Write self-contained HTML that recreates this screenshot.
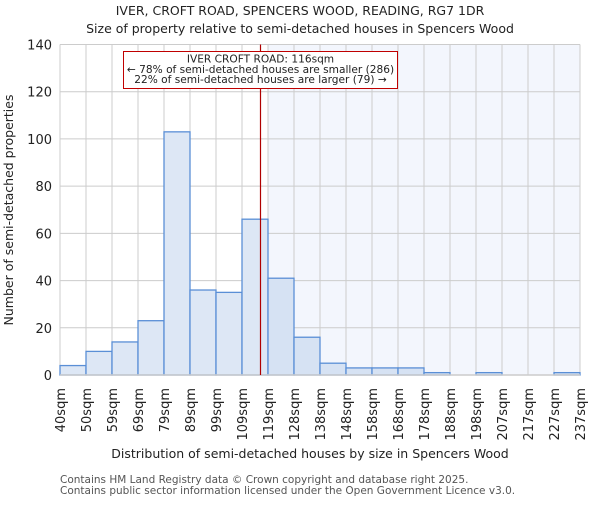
<!DOCTYPE html>
<html><head><meta charset="utf-8"><style>
body{margin:0;background:#fff}
svg text{font-family:"DejaVu Sans","Liberation Sans",sans-serif;fill:#222}
</style></head><body>
<svg width="600" height="500" viewBox="0 0 600 500" xmlns="http://www.w3.org/2000/svg">
<text x="300" y="15" font-size="12.5" text-anchor="middle">IVER, CROFT ROAD, SPENCERS WOOD, READING, RG7 1DR</text>
<text x="300" y="33" font-size="12.5" text-anchor="middle">Size of property relative to semi-detached houses in Spencers Wood</text>
<g id="plot"></g>
<text x="310" y="458" font-size="12.5" text-anchor="middle">Distribution of semi-detached houses by size in Spencers Wood</text>
<text transform="translate(13,210) rotate(-90)" font-size="12.5" text-anchor="middle">Number of semi-detached properties</text>
<text x="60" y="483" font-size="10.5" style="fill:#555">Contains HM Land Registry data © Crown copyright and database right 2025.</text>
<text x="60" y="494" font-size="10.5" style="fill:#555">Contains public sector information licensed under the Open Government Licence v3.0.</text>
</svg>
<script>
const binLabels=["40sqm","50sqm","59sqm","69sqm","79sqm","89sqm","99sqm","109sqm","119sqm","128sqm","138sqm","148sqm","158sqm","168sqm","178sqm","188sqm","198sqm","207sqm","217sqm","227sqm","237sqm"];
const counts=[4,10,14,23,103,36,35,66,41,16,5,3,3,3,1,0,1,0,0,1];
const yTicks=[0,20,40,60,80,100,120,140];
const propertyBin=8;
const propertyPos=7.73;
const NS="http://www.w3.org/2000/svg";
const L=60,R=580,T=44.5,B=375,yMax=140;
const n=counts.length,bw=(R-L)/n;
const xs=i=>L+i*bw, ys=v=>B-(v/yMax)*(B-T);
const g=document.getElementById('plot');
function mk(tag,at){const e=document.createElementNS(NS,tag);for(const k in at)e.setAttribute(k,at[k]);g.appendChild(e);return e;}
let e=mk('rect',{x:xs(propertyBin),y:T,width:R-xs(propertyBin),height:B-T,fill:'#f3f6fd'});


yTicks.forEach(t=>{const l=mk('line',{x1:L,x2:R,y1:ys(t),y2:ys(t),stroke:'#cccccc','stroke-width':1});


const tx=mk('text',{x:L-8,y:ys(t)+5,'font-size':13,'text-anchor':'end'});tx.textContent=t;

});
binLabels.forEach((lab,i)=>{const l=mk('line',{x1:xs(i),x2:xs(i),y1:T,y2:B,stroke:'#cccccc','stroke-width':1});


const tx=mk('text',{transform:`translate(${xs(i)+5},388) rotate(-90)`,'font-size':13,'text-anchor':'end'});tx.textContent=lab;

});
counts.forEach((c,i)=>{if(c<=0)return;const r=mk('rect',{x:xs(i),y:ys(c),width:bw,height:B-ys(c),fill:i>=propertyBin?'#d6e2f3':'#dde7f5',stroke:'#5a8fd6','stroke-width':1.3});

});
const ax=mk('line',{x1:L,x2:R,y1:B,y2:B,stroke:'#cccccc','stroke-width':1.5});


const mx=Math.floor(xs(propertyPos))+0.5;
const rl=mk('line',{x1:mx,x2:mx,y1:T,y2:B,stroke:'#b00000','stroke-width':1.2});


const box=mk('rect',{x:123.5,y:51.5,width:274,height:37,fill:'#fff',stroke:'#c00000','stroke-width':1});


["IVER CROFT ROAD: 116sqm","← 78% of semi-detached houses are smaller (286)","22% of semi-detached houses are larger (79) →"].forEach((s,k)=>{const t=mk('text',{x:260.5,y:62.5+k*10.3,'font-size':10.6,'text-anchor':'middle'});t.textContent=s;

});
</script>
</body></html>
